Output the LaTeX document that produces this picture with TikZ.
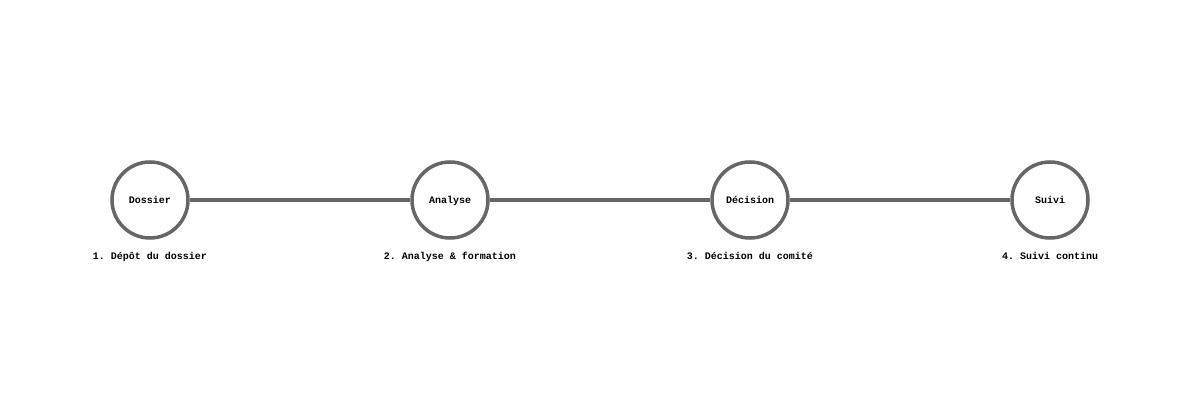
\documentclass[tikz,border=0pt]{standalone}
\usepackage{fontspec}
\setmonofont{Liberation Mono}
\definecolor{stroke}{HTML}{666666}
\begin{document}
\begin{tikzpicture}[x=1pt,y=1pt,
  stage/.style={circle,draw=stroke,line width=3.5pt,fill=white,minimum size=76pt,inner sep=0pt,text height=8pt,text depth=1pt,font=\ttfamily\bfseries\fontsize{10}{12}\selectfont},
  caption/.style={font=\ttfamily\bfseries\fontsize{10}{12}\selectfont,inner sep=0pt,text height=7pt,text depth=2pt},
  link/.style={draw=stroke,line width=3.5pt}]
\useasboundingbox (0,0) rectangle (1200,400);
\node[stage] (s1) at (150,200) {Dossier};
\node[stage] (s2) at (450,200) {Analyse};
\node[stage] (s3) at (750,200) {Décision};
\node[stage] (s4) at (1050,200) {Suivi};
\draw[link] (s1) -- (s2);
\draw[link] (s2) -- (s3);
\draw[link] (s3) -- (s4);
\node[caption] (c1) at (150,143) {1. Dépôt du dossier};
\node[caption] (c2) at (450,143) {2. Analyse \& formation};
\node[caption] (c3) at (750,143) {3. Décision du comité};
\node[caption] (c4) at (1050,143) {4. Suivi continu};
\end{tikzpicture}
\end{document}
